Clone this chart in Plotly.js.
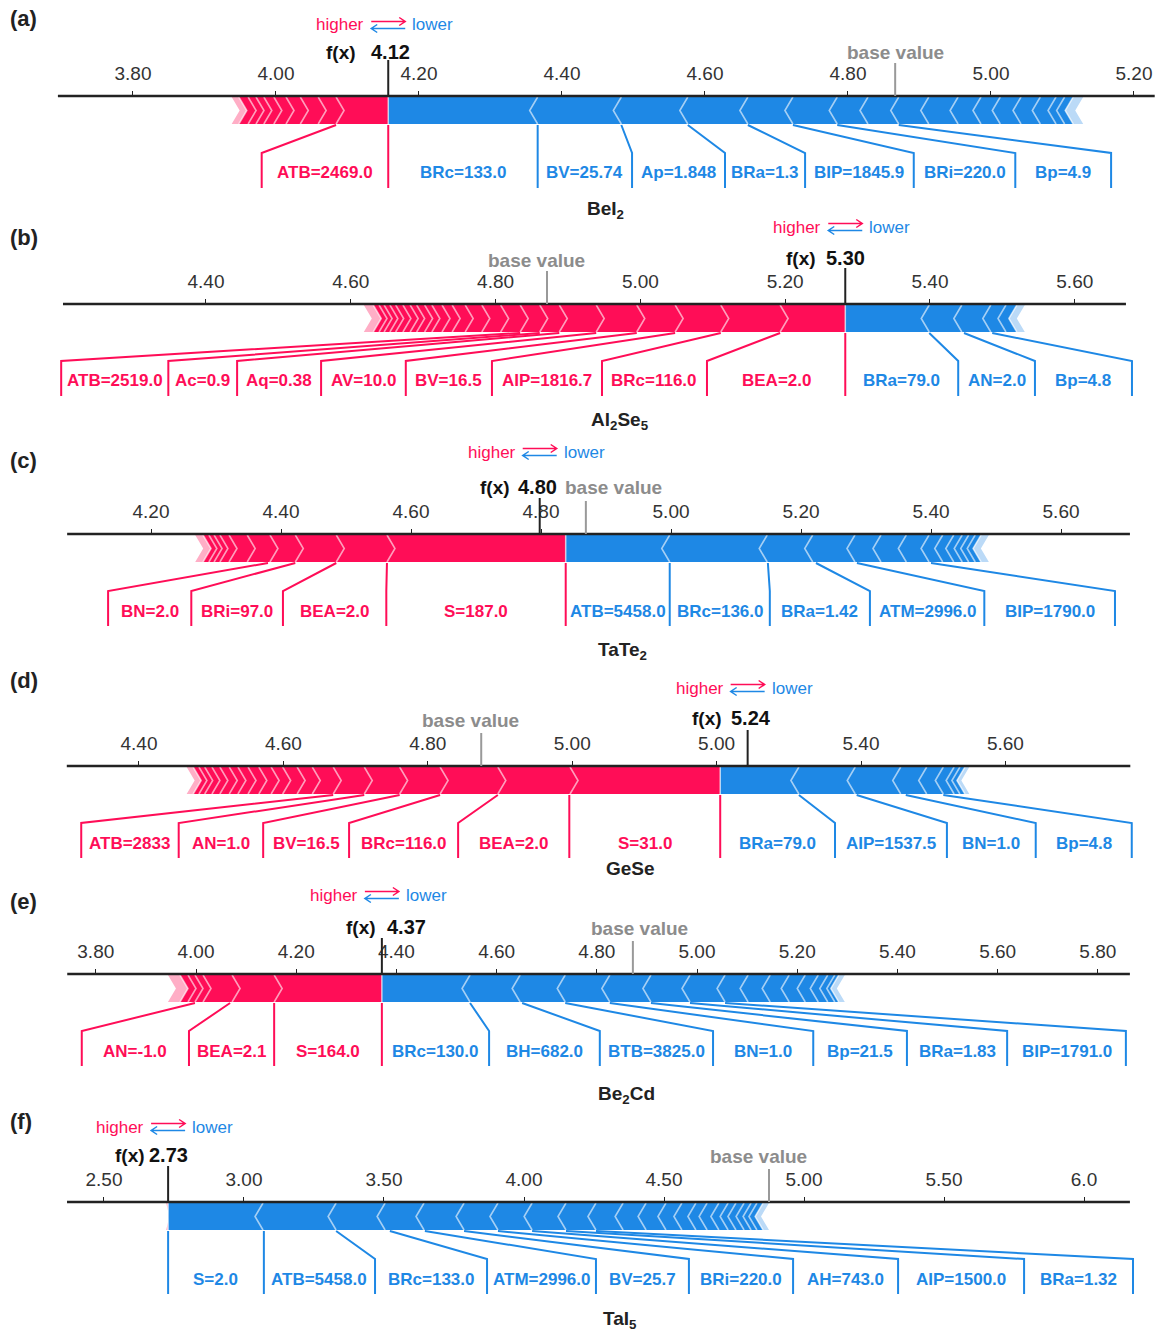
<!DOCTYPE html>
<html><head><meta charset="utf-8">
<script src="https://cdn.plot.ly/plotly-3.0.1.min.js"></script>
<style>html,body{margin:0;padding:0;background:#fff}</style>
</head><body>
<div id="chart" style="width:1161px;height:1333px"></div>
<script>
// ---------------- DATA (in axis units) ----------------
const panelLetters = ['(a)','(b)','(c)','(d)','(e)','(f)'];
const compounds = ['BeI<sub>2</sub>','Al<sub>2</sub>Se<sub>5</sub>','TaTe<sub>2</sub>','GeSe','Be<sub>2</sub>Cd','TaI<sub>5</sub>'];
const fxText = ['4.12','5.30','4.80','5.24','4.37','2.73'];
const fxMarker = [4.157, 5.283, 4.798, 5.243, 4.371, 2.729];
const baseMarker = [4.866, 4.871, 4.869, 4.874, 4.872, 4.875];
const splitValue = [4.157, 5.283, 4.838, 5.205, 4.371, 2.729];
const redStart = [3.938, 4.618, 4.268, 4.466, 3.944, 2.722];
const blueEnd = [5.129, 5.531, 5.489, 5.550, 5.295, 4.875];

const redChevrons = [
  [3.948,3.961,3.972,3.983,3.997,4.014,4.034,4.059,4.084],
  [4.631,4.639,4.646,4.654,4.662,4.672,4.682,4.691,4.702,4.712,4.726,4.740,4.758,4.781,4.807,4.834,4.861,4.888,4.939,4.995,5.048,5.111,5.193],
  [4.280,4.289,4.297,4.306,4.320,4.348,4.383,4.422,4.485,4.563],
  [4.475,4.483,4.491,4.501,4.512,4.525,4.537,4.551,4.566,4.583,4.599,4.619,4.640,4.669,4.712,4.761,4.817,4.897,4.997],
  [3.968,3.984,3.998,4.014,4.072,4.156],
  []
];
const blueChevrons = [
  [4.366,4.483,4.576,4.660,4.723,4.785,4.828,4.871,4.913,4.954,4.986,5.013,5.042,5.069,5.091,5.103,5.115],
  [5.399,5.444,5.484,5.505,5.520],
  [4.998,5.148,5.218,5.283,5.323,5.362,5.397,5.418,5.435,5.448,5.458,5.468,5.477],
  [5.314,5.392,5.455,5.491,5.514,5.529,5.537,5.544],
  [4.547,4.647,4.737,4.826,4.908,4.986,5.056,5.102,5.146,5.184,5.216,5.242,5.261,5.275,5.283],
  [3.068,3.329,3.504,3.643,3.786,3.907,4.029,4.150,4.257,4.354,4.436,4.507,4.564,4.614,4.654,4.696,4.729,4.757,4.786,4.811,4.832,4.854]
];

const featureLabels = [
  ['ATB=2469.0','BRc=133.0','BV=25.74','Ap=1.848','BRa=1.3','BIP=1845.9','BRi=220.0','Bp=4.9'],
  ['ATB=2519.0','Ac=0.9','Aq=0.38','AV=10.0','BV=16.5','AIP=1816.7','BRc=116.0','BEA=2.0','BRa=79.0','AN=2.0','Bp=4.8'],
  ['BN=2.0','BRi=97.0','BEA=2.0','S=187.0','ATB=5458.0','BRc=136.0','BRa=1.42','ATM=2996.0','BIP=1790.0'],
  ['ATB=2833','AN=1.0','BV=16.5','BRc=116.0','BEA=2.0','S=31.0','BRa=79.0','AIP=1537.5','BN=1.0','Bp=4.8'],
  ['AN=-1.0','BEA=2.1','S=164.0','BRc=130.0','BH=682.0','BTB=3825.0','BN=1.0','Bp=21.5','BRa=1.83','BIP=1791.0'],
  ['S=2.0','ATB=5458.0','BRc=133.0','ATM=2996.0','BV=25.7','BRi=220.0','AH=743.0','AIP=1500.0','BRa=1.32']
];
// label box edges (axis units) and where each edge's leader leaves the bar
const labelEdges = [
  [3.980,4.157,4.366,4.498,4.628,4.740,4.892,5.034,5.168],
  [4.200,4.348,4.443,4.559,4.676,4.795,4.947,5.092,5.283,5.439,5.545,5.679],
  [4.134,4.262,4.403,4.562,4.838,4.998,5.152,5.306,5.482,5.683],
  [4.320,4.455,4.572,4.691,4.842,4.996,5.205,5.364,5.519,5.642,5.775],
  [3.772,3.986,4.156,4.371,4.585,4.806,5.032,5.232,5.419,5.619,5.856],
  [2.729,3.071,3.468,3.868,4.257,4.589,4.961,5.336,5.786,6.175]
];
const leaderFrom = [
  [4.084,4.157,4.366,4.483,4.576,4.660,4.723,4.785,4.871],
  [4.834,4.861,4.888,4.939,4.995,5.048,5.111,5.193,5.283,5.399,5.447,5.486],
  [4.380,4.422,4.485,4.563,4.838,4.998,5.149,5.223,5.286,5.400],
  [4.669,4.712,4.761,4.817,4.897,4.996,5.205,5.314,5.394,5.462,5.514],
  [3.998,4.068,4.156,4.371,4.547,4.651,4.737,4.826,4.908,4.986,5.056],
  [2.729,3.071,3.329,3.521,3.646,3.786,3.907,4.029,4.150,4.257]
];

const tickVals = [
  [3.8,4.0,4.2,4.4,4.6,4.8,5.0,5.2],
  [4.4,4.6,4.8,5.0,5.2,5.4,5.6],
  [4.2,4.4,4.6,4.8,5.0,5.2,5.4,5.6],
  [4.4,4.6,4.8,5.0,5.2,5.4,5.6],
  [3.8,4.0,4.2,4.4,4.6,4.8,5.0,5.2,5.4,5.6,5.8],
  [2.5,3.0,3.5,4.0,4.5,5.0,5.5,6.0]
];
const tickText = [
  ['3.80','4.00','4.20','4.40','4.60','4.80','5.00','5.20'],
  ['4.40','4.60','4.80','5.00','5.20','5.40','5.60'],
  ['4.20','4.40','4.60','4.80','5.00','5.20','5.40','5.60'],
  ['4.40','4.60','4.80','5.00','5.00','5.40','5.60'],
  ['3.80','4.00','4.20','4.40','4.60','4.80','5.00','5.20','5.40','5.60','5.80'],
  ['2.50','3.00','3.50','4.00','4.50','5.00','5.50','6.0']
];

// ---------------- LAYOUT / STYLE ----------------
const W = 1161, H = 1333;
const RED = '#ff0d57', BLUE = '#1e88e5';
const RED_LIGHT = '#ffaec6', BLUE_LIGHT = '#bbdaf7';
const FONT = '"Liberation Sans", Arial, Helvetica, sans-serif';
const axisRange = [[3.6140,5.2378],[4.1155,5.7191],[3.9677,5.7538],[4.2075,5.8155],[3.6088,5.9261],[2.1286,6.2750]];
const axisExtent = [[3.695,5.229],[4.2025,5.6707],[4.071,5.706],[4.300,5.773],[3.743,5.864],[2.368,6.164]];
const axisY = [96, 304, 534, 766, 974, 1202];
const letterY = [18, 238, 460, 680, 901, 1121];
const legendY = [25, 227, 452, 688, 895, 1127];
const fxLabelY = [52, 258, 487, 718, 927, 1155];
const baseLabelY = [52, 260, 487, 720, 928, 1156];
const nameY = [210, 421, 651, 868, 1095, 1320];
const nameX = [605, 620, 622, 630, 626, 620];
const fxValShift = [2, 0, -2, 3, 25, 0];
const fxWordRight = [-30, -27, -28, -24, -4, -21];
const baseShift = [0, -10, 28, -11, 7, -10];

const BAR_T = -1, BAR_B = -28, BAR_M = -14.5, ELBOW = -57, LBOT = -92, LTEXT = -77;
const YTOP = 50, YBOT = -100;

const traces = [], shapes = [], annotations = [];
const layout = {
  width: W, height: H, margin: {l:0, r:0, t:0, b:0},
  showlegend: false, paper_bgcolor: '#ffffff', plot_bgcolor: 'rgba(0,0,0,0)',
  font: {family: FONT}
};
const pY = py => 1 - py / H;
const pX = px => px / W;
function paperText(xpx, ypx, text, size, color, xanchor) {
  annotations.push({x: pX(xpx), y: pY(ypx), xref: 'paper', yref: 'paper', showarrow: false,
    xanchor: xanchor || 'center', yanchor: 'middle', text: text, font: {family: FONT, size: size, color: color}});
}

for (let i = 0; i < 6; i++) {
  const sfx = i ? String(i + 1) : '';
  const xa = 'x' + sfx, ya = 'y' + sfx;
  const r = axisRange[i];
  const toPx = v => (v - r[0]) / (r[1] - r[0]) * W;
  const tip = 8 * (r[1] - r[0]) / W;

  layout['yaxis' + sfx] = {
    domain: [1 - (axisY[i] - YBOT) / H, 1 - (axisY[i] - YTOP) / H],
    range: [YBOT, YTOP], visible: false, fixedrange: true, anchor: xa
  };
  layout['xaxis' + sfx] = {
    domain: [0, 1], range: r, anchor: 'free', position: 1 - axisY[i] / H, side: 'top',
    showgrid: false, zeroline: false, showline: false,
    ticks: 'outside', ticklen: 5, tickwidth: 1, tickcolor: '#222',
    tickmode: 'array', tickvals: tickVals[i], ticktext: tickText[i],
    ticklabelstandoff: 3,
    tickfont: {family: FONT, size: 19, color: '#333'}, fixedrange: true
  };

  const split = splitValue[i];
  const rc = redChevrons[i], bc = blueChevrons[i];
  const s = redStart[i];
  const c1 = rc.length ? rc[0] : split;
  if (rc.length) {
    traces.push({x: [s, c1, c1 + tip, c1, s, s + tip, s], y: [BAR_T, BAR_T, BAR_M, BAR_B, BAR_B, BAR_M, BAR_T],
      xaxis: xa, yaxis: ya, mode: 'lines', fill: 'toself', fillcolor: RED_LIGHT, line: {width: 0}, hoverinfo: 'skip'});
    traces.push({x: [c1, split, split, c1, c1 + tip, c1], y: [BAR_T, BAR_T, BAR_B, BAR_B, BAR_M, BAR_T],
      xaxis: xa, yaxis: ya, mode: 'lines', fill: 'toself', fillcolor: RED, line: {width: 0}, hoverinfo: 'skip'});
  } else {
    traces.push({x: [s, split, split, s, s + tip * 0.4, s], y: [BAR_T, BAR_T, BAR_B, BAR_B, BAR_M, BAR_T],
      xaxis: xa, yaxis: ya, mode: 'lines', fill: 'toself', fillcolor: RED_LIGHT, line: {width: 0}, hoverinfo: 'skip'});
  }
  const cl = bc.length ? bc[bc.length - 1] : blueEnd[i];
  const e = blueEnd[i];
  traces.push({x: [split, cl, cl - tip, cl, split, split], y: [BAR_T, BAR_T, BAR_M, BAR_B, BAR_B, BAR_T],
    xaxis: xa, yaxis: ya, mode: 'lines', fill: 'toself', fillcolor: BLUE, line: {width: 0}, hoverinfo: 'skip'});
  traces.push({x: [cl, e, e - tip, e, cl, cl - tip, cl], y: [BAR_T, BAR_T, BAR_M, BAR_B, BAR_B, BAR_M, BAR_T],
    xaxis: xa, yaxis: ya, mode: 'lines', fill: 'toself', fillcolor: BLUE_LIGHT, line: {width: 0}, hoverinfo: 'skip'});

  const chx = [], chy = [];
  rc.forEach(c => { chx.push(c, c + tip, c, null); chy.push(BAR_T, BAR_M, BAR_B, null); });
  bc.forEach(c => { chx.push(c, c - tip, c, null); chy.push(BAR_T, BAR_M, BAR_B, null); });
  chx.push(split, split, null); chy.push(BAR_T, BAR_B, null);
  traces.push({x: chx, y: chy, xaxis: xa, yaxis: ya, mode: 'lines',
    line: {color: 'rgba(255,255,255,0.6)', width: 1.6}, hoverinfo: 'skip', connectgaps: false});

  const labs = featureLabels[i], edges = labelEdges[i], from = leaderFrom[i];
  let nRed = 0;
  labs.forEach((t, j) => { if ((edges[j] + edges[j + 1]) / 2 < split) nRed++; });
  const lr = {x: [], y: []}, lb = {x: [], y: []};
  edges.forEach((ed, j) => {
    const isRed = j < nRed || (j === nRed && nRed > 0);
    const tgt = isRed ? lr : lb;
    tgt.x.push(from[j], ed, ed, null);
    tgt.y.push(BAR_B - 1, ELBOW, LBOT, null);
  });
  traces.push({x: lr.x, y: lr.y, xaxis: xa, yaxis: ya, mode: 'lines', line: {color: RED, width: 2}, hoverinfo: 'skip'});
  traces.push({x: lb.x, y: lb.y, xaxis: xa, yaxis: ya, mode: 'lines', line: {color: BLUE, width: 2}, hoverinfo: 'skip'});
  labs.forEach((t, j) => {
    const isRed = j < nRed;
    annotations.push({x: (edges[j] + edges[j + 1]) / 2, y: LTEXT, xref: xa, yref: ya, showarrow: false,
      xanchor: 'center', yanchor: 'middle',
      text: '<b>' + t + '</b>', font: {family: FONT, size: 17, color: isRed ? RED : BLUE}});
  });

  shapes.push({type: 'line', xref: xa, yref: ya, x0: axisExtent[i][0], x1: axisExtent[i][1], y0: 0, y1: 0,
    line: {color: '#222', width: 2.5}});
  shapes.push({type: 'line', xref: xa, yref: ya, x0: fxMarker[i], x1: fxMarker[i], y0: 0, y1: 36,
    line: {color: '#222', width: 2}});
  shapes.push({type: 'line', xref: xa, yref: ya, x0: baseMarker[i], x1: baseMarker[i], y0: 0, y1: 33,
    line: {color: '#999', width: 2}});

  const fxPx = toPx(fxMarker[i]);
  paperText(fxPx + fxValShift[i], fxLabelY[i], '<b>' + fxText[i] + '</b>', 20, '#111', 'center');
  paperText(fxPx + fxWordRight[i], fxLabelY[i], '<b>f(x)</b>', 19, '#111', 'right');
  const bPx = toPx(baseMarker[i]);
  paperText(bPx + baseShift[i], baseLabelY[i], '<b>base value</b>', 19, '#8c8c8c', 'center');

  const cx = fxPx, ly = legendY[i];
  paperText(cx - 22, ly, 'higher', 17, RED, 'right');
  paperText(cx + 22, ly, 'lower', 17, BLUE, 'left');
  const P = (a, b) => pX(a) + ',' + pY(b);
  shapes.push({type: 'path', xref: 'paper', yref: 'paper', line: {color: RED, width: 1.5},
    path: 'M' + P(cx - 17, ly - 3.5) + 'L' + P(cx + 17, ly - 3.5) + 'M' + P(cx + 11, ly - 7.5) + 'L' + P(cx + 17, ly - 3.5) + 'L' + P(cx + 11, ly + 0.5)});
  shapes.push({type: 'path', xref: 'paper', yref: 'paper', line: {color: BLUE, width: 1.5},
    path: 'M' + P(cx + 17, ly + 3.5) + 'L' + P(cx - 17, ly + 3.5) + 'M' + P(cx - 11, ly - 0.5) + 'L' + P(cx - 17, ly + 3.5) + 'L' + P(cx - 11, ly + 7.5)});

  paperText(8, letterY[i], '<b>' + panelLetters[i] + '</b>', 22, '#222', 'left');
  paperText(nameX[i], nameY[i], '<b>' + compounds[i] + '</b>', 19, '#222', 'center');
}

layout.shapes = shapes;
layout.annotations = annotations;
Plotly.newPlot('chart', traces, layout, {staticPlot: true, displayModeBar: false});
</script>
</body></html>
